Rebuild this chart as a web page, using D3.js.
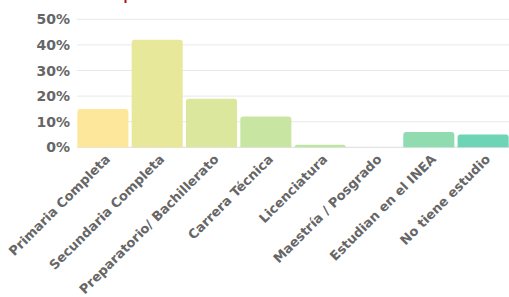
<!DOCTYPE html>
<html>
<head>
<meta charset="utf-8">
<script src="https://cdn.jsdelivr.net/npm/d3@7"></script>
<style>
  html, body { margin: 0; padding: 0; background: #fff; }
  svg text { font-family: "DejaVu Sans", sans-serif; fill: #666; }
</style>
</head>
<body>
<div id="chart"></div>
<script>
const categories = ['Primaria Completa', 'Secundaria Completa', 'Preparatorio/ Bachillerato',
  'Carrera Técnica', 'Licenciatura', 'Maestría / Posgrado', 'Estudian en el INEA', 'No tiene estudio'];
const values = [15, 42, 19, 12, 1, 0, 6, 5];
const barColors = ['#fde79b', '#e8e89a', '#dbe79c', '#c8e6a1', '#bde6a3', '#a6e0a8', '#90dbaf', '#6dd4b6'];
const yTicks = [0, 10, 20, 30, 40, 50];

const width = 509, height = 297;

const svg = d3.select('#chart')
  .append('svg')
  .attr('width', width)
  .attr('height', height);

const x = d3.scaleBand()
  .domain(categories)
  .range([75.7, 510.3])
  .paddingInner(0.06)
  .paddingOuter(0.03);

const y = d3.scaleLinear()
  .domain([0, 50])
  .range([147.3, 19.3]);

// grid lines
svg.append('g')
  .selectAll('line')
  .data(yTicks)
  .enter()
  .append('line')
  .attr('x1', 77)
  .attr('x2', width)
  .attr('y1', d => y(d))
  .attr('y2', d => y(d))
  .attr('stroke', d => d === 0 ? '#dcdcdc' : '#e8e8e8')
  .attr('stroke-width', 1);

// y labels
svg.append('g')
  .selectAll('text')
  .data(yTicks)
  .enter()
  .append('text')
  .attr('x', 70)
  .attr('y', d => y(d))
  .attr('dy', '0.36em')
  .attr('text-anchor', 'end')
  .style('font-size', '14px')
  .style('font-weight', 'bold')
  .text(d => d + '%');

// bars, rounded on top only
const r = 3;
function barPath(d, i) {
  const x0 = x(categories[i]), w = x.bandwidth();
  const y0 = y(0), y1 = y(d);
  const h = y0 - y1;
  if (h <= 0) return '';
  const rr = Math.min(r, h);
  return `M${x0},${y0} V${y1 + rr} Q${x0},${y1} ${x0 + rr},${y1} H${x0 + w - rr} Q${x0 + w},${y1} ${x0 + w},${y1 + rr} V${y0} Z`;
}

svg.append('g')
  .selectAll('path')
  .data(values)
  .enter()
  .append('path')
  .attr('d', barPath)
  .attr('fill', (d, i) => barColors[i]);

// x labels
svg.append('g')
  .selectAll('text')
  .data(categories)
  .enter()
  .append('text')
  .attr('text-anchor', 'end')
  .attr('transform', d => `translate(${x(d) + x.bandwidth() / 2 + 8},${160}) rotate(-45)`)
  .style('font-size', '13px')
  .style('font-weight', 'bold')
  .text(d => d);

// bit of the title cut off at the top
svg.append('rect')
  .attr('x', 124.5)
  .attr('y', 0)
  .attr('width', 2)
  .attr('height', 3)
  .attr('fill', '#b0101e');
</script>
</body>
</html>
